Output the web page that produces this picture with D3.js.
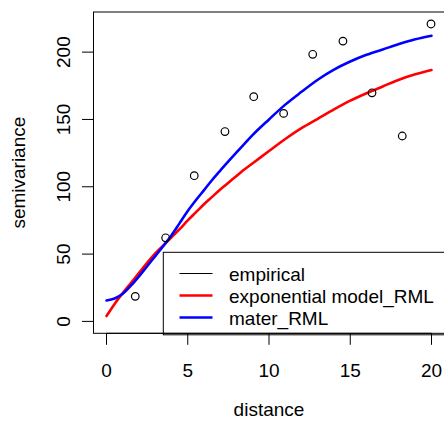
<!DOCTYPE html>
<html>
<head>
<meta charset="utf-8">
<script src="https://cdn.jsdelivr.net/npm/d3@7"></script>
<style>
  html, body { margin: 0; padding: 0; background: #fff; }
  svg { display: block; }
  text { font-family: "Liberation Sans", Arial, Helvetica, sans-serif; fill: #000; }
</style>
</head>
<body>
<svg id="chart" width="444" height="421"></svg>
<script>
// Empirical semivariogram (distance bins and semivariance)
const empDist = [1.77, 3.64, 5.40, 7.29, 9.06, 10.90, 12.69, 14.55, 16.34, 18.20, 19.97];
const empGamma = [18.6, 62.1, 108.2, 141.0, 166.9, 154.5, 198.4, 208.2, 169.8, 137.7, 220.9];

// Fitted exponential model (RML)
const expDist = [0, 0.5, 1.0, 1.5, 2.0, 2.5, 3.0, 3.5, 4.0, 4.5, 5.0, 5.5, 6.0, 6.5, 7.0, 7.5, 8.0, 8.5, 9.0, 10.0, 11.0, 12.0, 13.0, 14.0, 15.0, 16.0, 17.0, 18.0, 19.0, 20.0];
const expGamma = [4, 13, 21, 28.5, 36, 43.5, 50.5, 56.5, 62.5, 68.5, 75, 81, 87, 92.5, 98, 103, 108, 113, 117.5, 126.5, 135.5, 143.5, 150.5, 157.5, 164, 169.5, 174.5, 179.5, 183.5, 186.7];

// Fitted Matern model (RML)
const matDist = [0, 0.5, 1.0, 1.5, 2.0, 2.5, 3.0, 3.5, 4.0, 4.5, 5.0, 5.5, 6.0, 6.5, 7.0, 7.5, 8.0, 8.5, 9.0, 10.0, 11.0, 12.0, 13.0, 14.0, 15.0, 16.0, 17.0, 18.0, 19.0, 20.0];
const matGamma = [15.5, 17, 20.5, 26.5, 33.5, 41, 48.5, 56, 64, 73, 82, 90, 97.5, 105, 112, 118.8, 125.5, 132, 138.5, 150, 161, 170.5, 179.5, 187, 193, 198, 202, 206, 209.5, 212.2];

const xTicks = [0, 5, 10, 15, 20];
const yTicks = [0, 50, 100, 150, 200];

const legendLabels = ["empirical", "exponential model_RML", "mater_RML"];
const legendColors = ["#000000", "#ff0000", "#0000ff"];
const legendWidths = [1, 2.6, 2.6];

const svg = d3.select("#chart");

// Plot region (axis ranges padded by 4% as in R)
const x = d3.scaleLinear().domain([-0.8, 20.8]).range([93.5, 444.5]);
const y = d3.scaleLinear().domain([-8.84, 229.8]).range([333.3, 12]);

const fontSize = 19;

// X axis
const xAxis = svg.append("g").attr("transform", `translate(0,${333.3})`);
xAxis.append("line")
  .attr("x1", x(0)).attr("x2", x(20)).attr("y1", 0).attr("y2", 0)
  .attr("stroke", "#000").attr("stroke-width", 1);
xTicks.forEach(t => {
  xAxis.append("line")
    .attr("x1", x(t)).attr("x2", x(t)).attr("y1", 0).attr("y2", 11.5)
    .attr("stroke", "#000").attr("stroke-width", 1);
  xAxis.append("text")
    .attr("x", x(t)).attr("y", 44)
    .attr("text-anchor", "middle")
    .attr("font-size", fontSize)
    .text(t);
});

// Y axis
const yAxis = svg.append("g").attr("transform", `translate(${93.5},0)`);
yAxis.append("line")
  .attr("x1", 0).attr("x2", 0).attr("y1", y(0)).attr("y2", y(200))
  .attr("stroke", "#000").attr("stroke-width", 1);
yTicks.forEach(t => {
  yAxis.append("line")
    .attr("x1", 0).attr("x2", -11.5).attr("y1", y(t)).attr("y2", y(t))
    .attr("stroke", "#000").attr("stroke-width", 1);
  yAxis.append("text")
    .attr("transform", `translate(${-23.5},${y(t)}) rotate(-90)`)
    .attr("text-anchor", "middle")
    .attr("font-size", fontSize)
    .text(t);
});

// Axis titles
svg.append("text")
  .attr("x", (x.range()[0] + x.range()[1]) / 2).attr("y", 416)
  .attr("text-anchor", "middle").attr("font-size", fontSize)
  .text("distance");
svg.append("text")
  .attr("transform", `translate(25,${(y.range()[0] + y.range()[1]) / 2}) rotate(-90)`)
  .attr("text-anchor", "middle").attr("font-size", fontSize)
  .text("semivariance");

// Plot frame
svg.append("rect")
  .attr("x", x.range()[0]).attr("y", y.range()[1])
  .attr("width", x.range()[1] - x.range()[0])
  .attr("height", y.range()[0] - y.range()[1])
  .attr("fill", "none").attr("stroke", "#000").attr("stroke-width", 1);

// Model curves
const line = d3.line().x(d => x(d[0])).y(d => y(d[1])).curve(d3.curveMonotoneX);
svg.append("path")
  .datum(d3.zip(expDist, expGamma))
  .attr("d", line).attr("fill", "none")
  .attr("stroke", "#ff0000").attr("stroke-width", 2.6)
  .attr("stroke-linejoin", "round").attr("stroke-linecap", "round");
svg.append("path")
  .datum(d3.zip(matDist, matGamma))
  .attr("d", line).attr("fill", "none")
  .attr("stroke", "#0000ff").attr("stroke-width", 2.6)
  .attr("stroke-linejoin", "round").attr("stroke-linecap", "round");

// Empirical points
svg.append("g").selectAll("circle")
  .data(d3.zip(empDist, empGamma))
  .join("circle")
  .attr("cx", d => x(d[0])).attr("cy", d => y(d[1]))
  .attr("r", 3.8)
  .attr("fill", "none").attr("stroke", "#000").attr("stroke-width", 1.2);

// Legend (bottom right)
const legend = svg.append("g");
legend.append("rect")
  .attr("x", 163.3).attr("y", 252.3)
  .attr("width", 300).attr("height", 82.5)
  .attr("fill", "none").attr("stroke", "#000").attr("stroke-width", 1);
legendLabels.forEach((lab, i) => {
  const cy = 273.5 + i * 22;
  legend.append("line")
    .attr("x1", 179.5).attr("x2", 212.5).attr("y1", cy).attr("y2", cy)
    .attr("stroke", legendColors[i]).attr("stroke-width", legendWidths[i]);
  legend.append("text")
    .attr("x", 229).attr("y", cy + 7)
    .attr("font-size", fontSize)
    .text(lab);
});
</script>
</body>
</html>
